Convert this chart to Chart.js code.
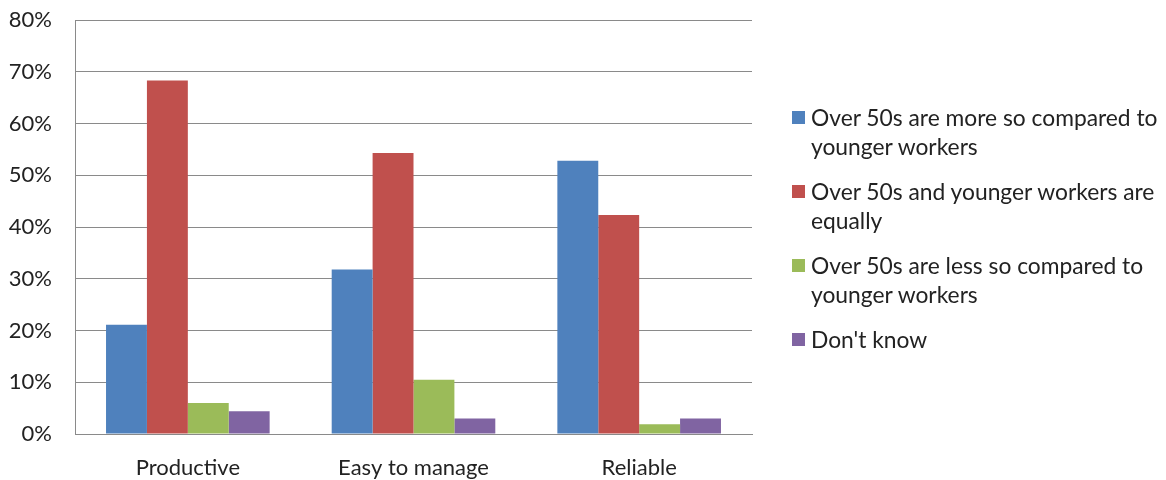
<!DOCTYPE html>
<html>
<head>
<meta charset="utf-8">
<script src="https://cdn.jsdelivr.net/npm/chart.js@4"></script>
<style>
  html, body { margin: 0; padding: 0; background: #fff; }
  #wrap { position: relative; width: 1166px; height: 480px; }
  #legend { position: absolute; left: 792px; top: 103px; font-family: Lato, sans-serif; font-size: 22.8px; line-height: 29px; color: #222; }
  .item { position: relative; padding-left: 19px; margin-bottom: 16px; width: 370px; white-space: nowrap; }
  .sw { position: absolute; left: 0; top: 8px; width: 13px; height: 13px; }
</style>
</head>
<body>
<div id="wrap">
  <canvas id="c" width="1166" height="480"></canvas>
  <div id="legend"></div>
</div>
<script>
const categories = ["Productive", "Easy to manage", "Reliable"];
const seriesNames = [
  ["Over 50s are more so compared to", "younger workers"],
  ["Over 50s and younger workers are", "equally"],
  ["Over 50s are less so compared to", "younger workers"],
  ["Don't know"]
];
const moreSo = [21.1, 31.8, 52.8];
const equally = [68.3, 54.3, 42.3];
const lessSo = [6.0, 10.5, 1.9];
const dontKnow = [4.4, 3.0, 3.0];
const colors = ["#4F81BD", "#C0504D", "#9BBB59", "#8064A2"];
const yTicks = [0, 10, 20, 30, 40, 50, 60, 70, 80];

const seriesValues = [moreSo, equally, lessSo, dontKnow];
const FONT = "Lato";
const gridColor = "#8a8a8a";

new Chart(document.getElementById("c"), {
  type: "bar",
  data: {
    labels: categories,
    datasets: seriesValues.map((vals, i) => ({
      label: seriesNames[i].join(" "),
      data: vals,
      backgroundColor: colors[i],
      borderWidth: 0,
      categoryPercentage: 0.725,
      barPercentage: 1.0
    }))
  },
  options: {
    responsive: false,
    animation: false,
    layout: { padding: { left: 0, top: 20, right: 414, bottom: 0 } },
    plugins: { legend: { display: false }, tooltip: { enabled: false } },
    scales: {
      x: {
        grid: { display: false },
        border: { display: true, color: gridColor },
        ticks: { font: { family: FONT, size: 22 }, color: "#222", padding: 13, maxRotation: 0 },
        afterFit: (s) => { s.height = 46; s.paddingLeft = 0; s.paddingRight = 0; }
      },
      y: {
        min: yTicks[0],
        max: yTicks[yTicks.length - 1],
        afterBuildTicks: (s) => { s.ticks = yTicks.map(v => ({ value: v })); },
        grid: { color: gridColor, drawTicks: false, lineWidth: 1 },
        border: { display: true, color: gridColor },
        ticks: { font: { family: FONT, size: 22 }, color: "#222", padding: 23, callback: v => v + "%" },
        afterFit: (s) => { s.width = 75; s.paddingTop = 0; s.paddingBottom = 0; }
      }
    }
  }
});

const lg = document.getElementById("legend");
seriesNames.forEach((lines, i) => {
  const d = document.createElement("div");
  d.className = "item";
  const sw = document.createElement("span");
  sw.className = "sw";
  sw.style.background = colors[i];
  d.appendChild(sw);
  lines.forEach(t => {
    const l = document.createElement("div");
    l.textContent = t;
    d.appendChild(l);
  });
  lg.appendChild(d);
});
</script>
</body>
</html>
